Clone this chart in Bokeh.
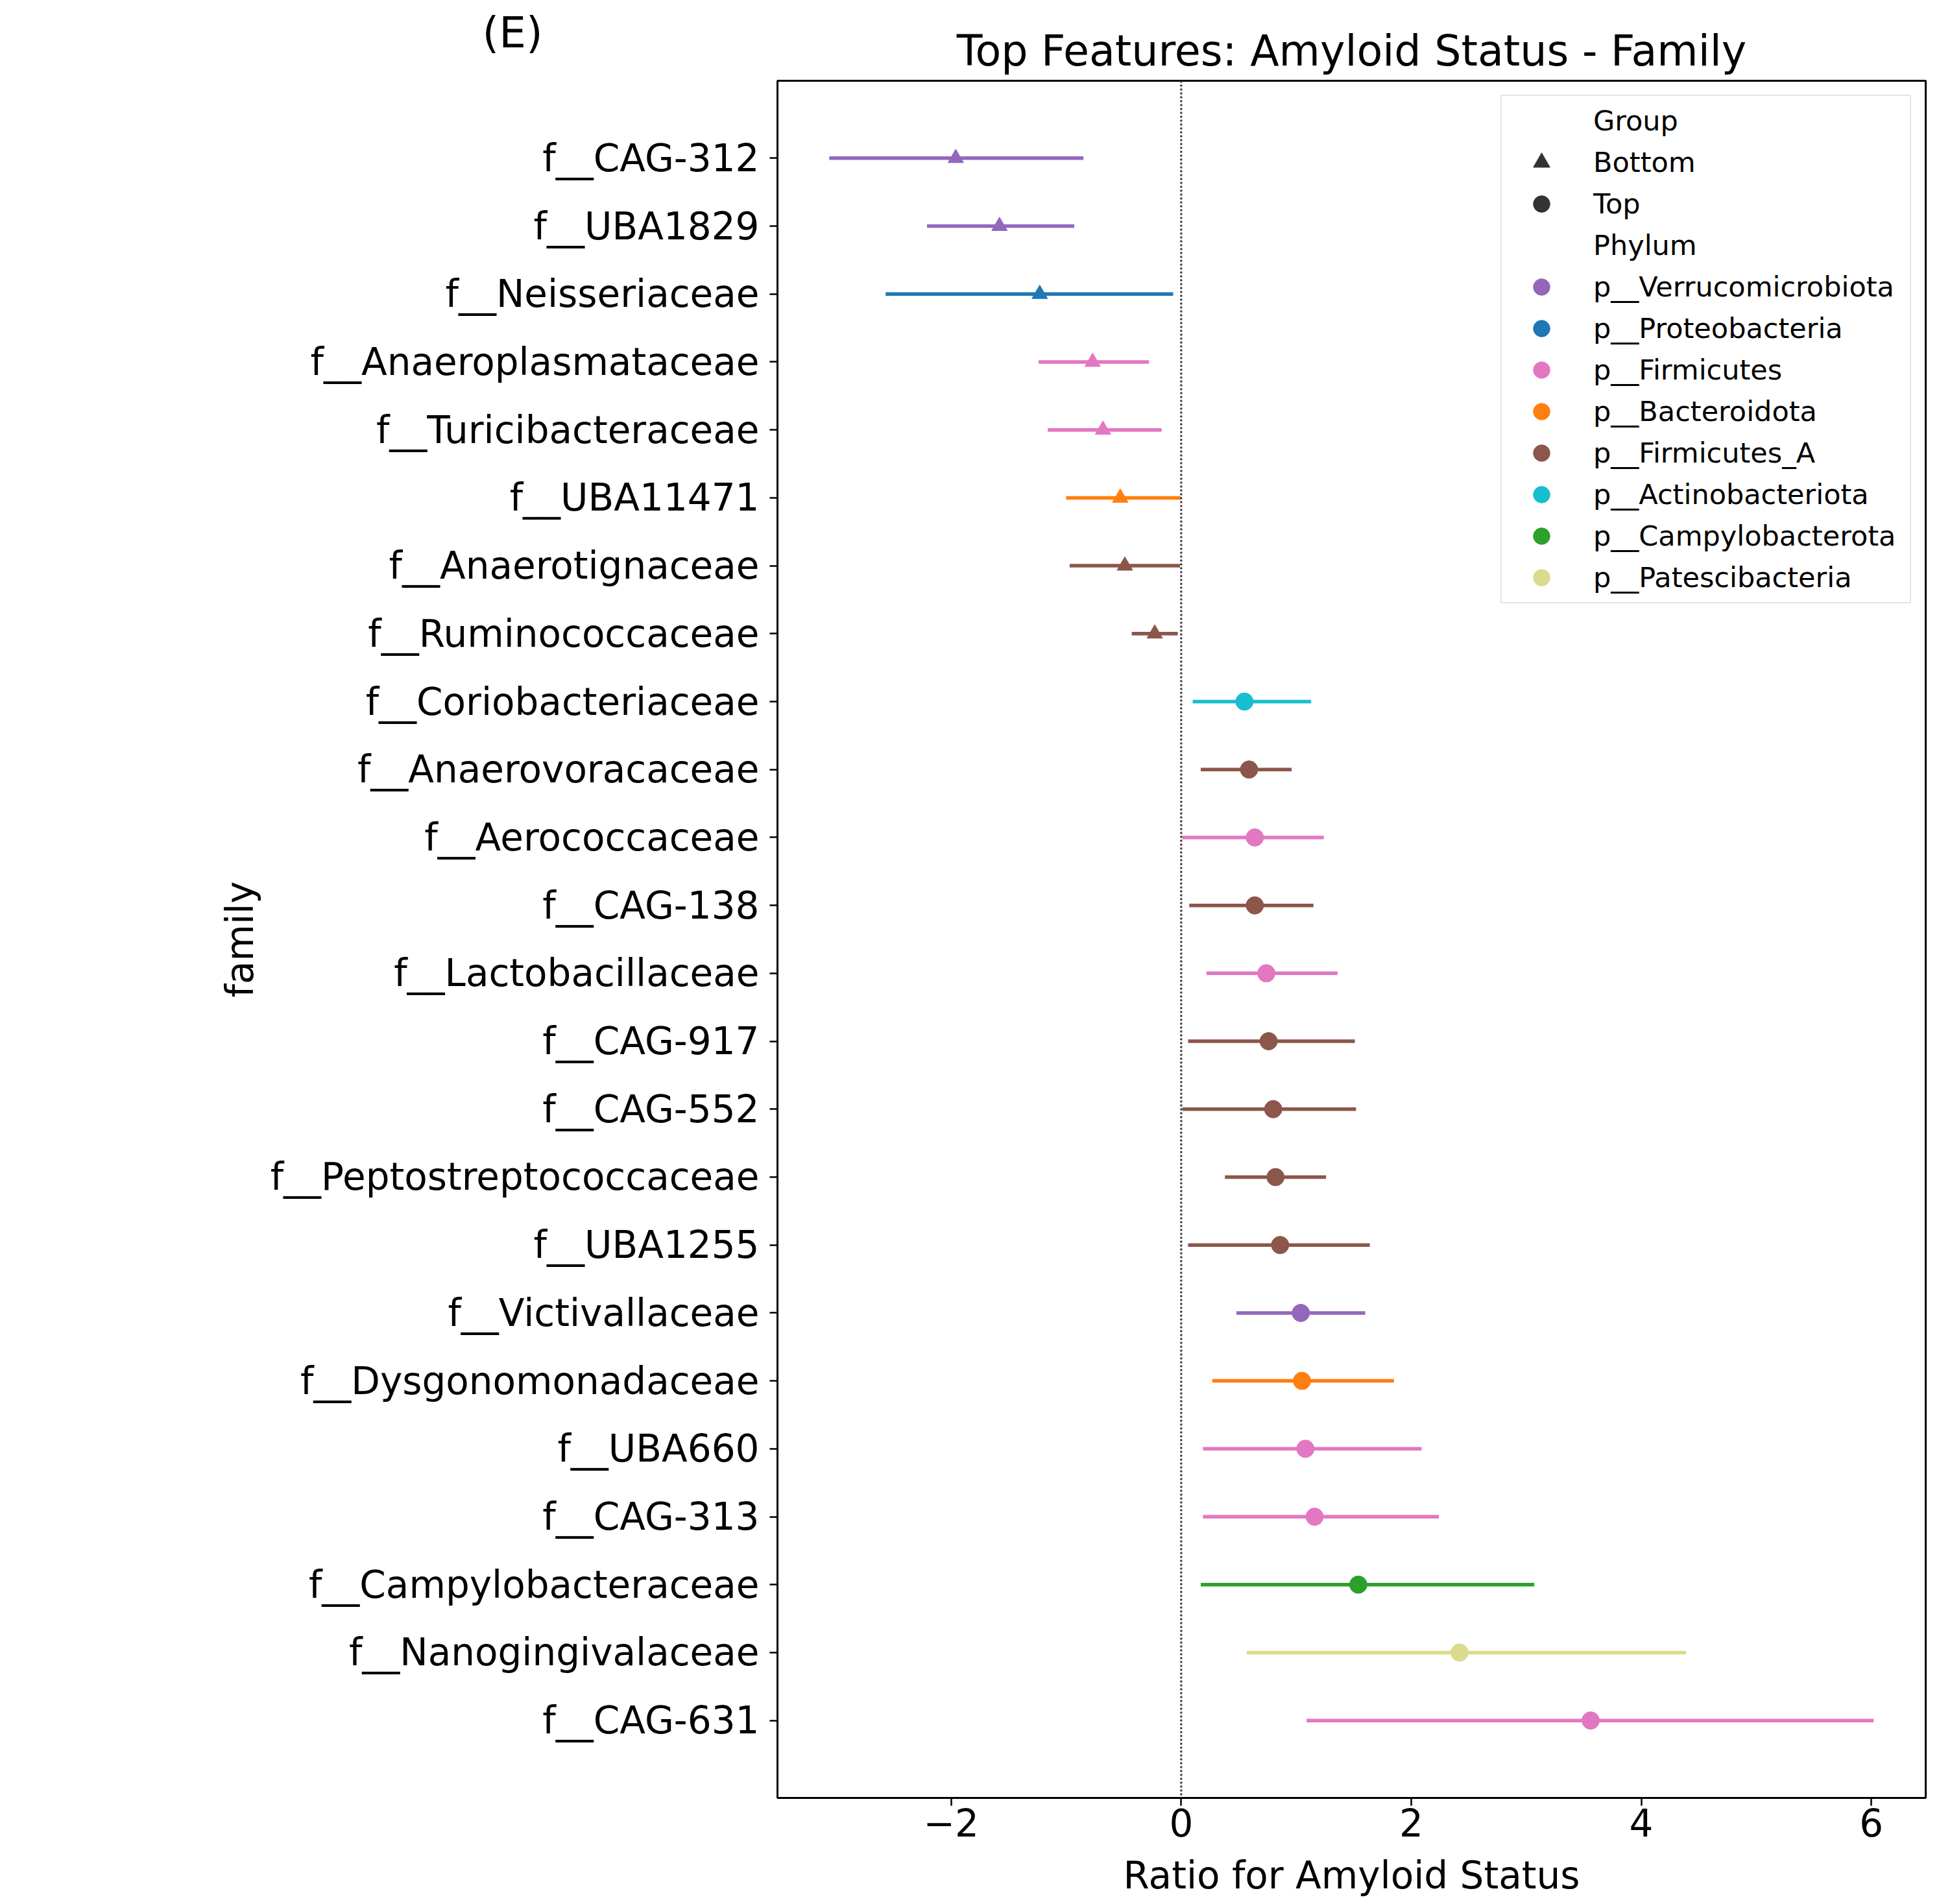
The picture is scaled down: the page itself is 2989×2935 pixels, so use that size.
from bokeh.plotting import figure
from bokeh.models import (Range1d, FixedTicker, Span, Legend, LegendItem, Label,
                          ColumnDataSource)
from bokeh.embed import file_html
from bokeh.resources import INLINE

# ---- data -----------------------------------------------------------------
families = [
    "f__CAG-312", "f__UBA1829", "f__Neisseriaceae", "f__Anaeroplasmataceae",
    "f__Turicibacteraceae", "f__UBA11471", "f__Anaerotignaceae", "f__Ruminococcaceae",
    "f__Coriobacteriaceae", "f__Anaerovoracaceae", "f__Aerococcaceae", "f__CAG-138",
    "f__Lactobacillaceae", "f__CAG-917", "f__CAG-552", "f__Peptostreptococcaceae",
    "f__UBA1255", "f__Victivallaceae", "f__Dysgonomonadaceae", "f__UBA660",
    "f__CAG-313", "f__Campylobacteraceae", "f__Nanogingivalaceae", "f__CAG-631",
]
phylum = [
    "p__Verrucomicrobiota", "p__Verrucomicrobiota", "p__Proteobacteria", "p__Firmicutes",
    "p__Firmicutes", "p__Bacteroidota", "p__Firmicutes_A", "p__Firmicutes_A",
    "p__Actinobacteriota", "p__Firmicutes_A", "p__Firmicutes", "p__Firmicutes_A",
    "p__Firmicutes", "p__Firmicutes_A", "p__Firmicutes_A", "p__Firmicutes_A",
    "p__Firmicutes_A", "p__Verrucomicrobiota", "p__Bacteroidota", "p__Firmicutes",
    "p__Firmicutes", "p__Campylobacterota", "p__Patescibacteria", "p__Firmicutes",
]
group = ["Bottom"] * 8 + ["Top"] * 16
ratio = [-1.96, -1.58, -1.23, -0.77, -0.68, -0.53, -0.49, -0.23,
         0.55, 0.59, 0.64, 0.64, 0.74, 0.76, 0.80, 0.82,
         0.86, 1.04, 1.05, 1.08, 1.16, 1.54, 2.42, 3.56]
ci_low = [-3.06, -2.21, -2.57, -1.24, -1.16, -1.00, -0.97, -0.43,
          0.10, 0.17, 0.01, 0.07, 0.22, 0.06, 0.01, 0.38,
          0.06, 0.48, 0.27, 0.19, 0.19, 0.17, 0.57, 1.09]
ci_high = [-0.85, -0.93, -0.07, -0.28, -0.17, -0.005, -0.01, -0.03,
           1.13, 0.96, 1.24, 1.15, 1.36, 1.51, 1.52, 1.26,
           1.64, 1.60, 1.85, 2.09, 2.24, 3.07, 4.39, 6.02]

phylum_order = ["p__Verrucomicrobiota", "p__Proteobacteria", "p__Firmicutes",
                "p__Bacteroidota", "p__Firmicutes_A", "p__Actinobacteriota",
                "p__Campylobacterota", "p__Patescibacteria"]
phylum_colors = ["#9467bd", "#1f77b4", "#e377c2", "#ff7f0e",
                 "#8c564b", "#17becf", "#2ca02c", "#dbdb8d"]
x_ticks = [-2, 0, 2, 4, 6]

FONT = "DejaVu Sans"
color_of = dict(zip(phylum_order, phylum_colors))
rows = list(range(len(families)))
colors = [color_of[ph] for ph in phylum]

src = ColumnDataSource(dict(y=rows, ratio=ratio, lo=ci_low, hi=ci_high,
                            color=colors, group=group))
bottom_idx = [i for i, g in enumerate(group) if g == "Bottom"]
top_idx = [i for i, g in enumerate(group) if g == "Top"]
src_bottom = ColumnDataSource({k: [v[i] for i in bottom_idx] for k, v in src.data.items()})
src_top = ColumnDataSource({k: [v[i] for i in top_idx] for k, v in src.data.items()})

# ---- figure ---------------------------------------------------------------
n = len(families)
p = figure(width=2989, height=2935, output_backend="svg", toolbar_location=None,
           x_range=Range1d(-3.510, 6.473),
           y_range=Range1d(n - 1 + 1.14, -1.14),
           min_border_left=1198, min_border_right=21,
           min_border_top=124, min_border_bottom=164)
p.background_fill_color = "white"
p.border_fill_color = "white"
p.grid.visible = False
p.outline_line_color = "black"
p.outline_line_width = 3

p.title.text = "Top Features: Amyloid Status - Family"
p.title.align = "center"
p.title.text_font = FONT
p.title.text_font_size = "65px"
p.title.text_font_style = "normal"
p.title.text_color = "black"
p.title.standoff = 18

# axes
p.xaxis.ticker = FixedTicker(ticks=x_ticks)
p.xaxis.major_label_overrides = {t: (f"\u2212{abs(t)}" if t < 0 else str(t)) for t in x_ticks}
p.xaxis.axis_label = "Ratio for Amyloid Status"
p.yaxis.ticker = FixedTicker(ticks=rows)
p.yaxis.major_label_overrides = {i: name for i, name in enumerate(families)}
p.yaxis.axis_label = "family"
for ax in (p.xaxis, p.yaxis):
    ax.axis_line_color = None
    ax.major_tick_line_color = "black"
    ax.major_tick_line_width = 2.5
    ax.major_tick_out = 12
    ax.major_tick_in = 0
    ax.minor_tick_line_color = None
    ax.major_label_text_font = FONT
    ax.major_label_text_font_size = "58px"
    ax.major_label_text_color = "black"
    ax.axis_label_text_font = FONT
    ax.axis_label_text_font_size = "58px"
    ax.axis_label_text_font_style = "normal"
    ax.axis_label_text_color = "black"
p.xaxis.major_label_standoff = 4
p.xaxis.axis_label_standoff = 23
p.yaxis.major_label_standoff = 16
p.yaxis.axis_label_standoff = 10

# reference line at zero
p.add_layout(Span(location=0, dimension="height", line_color="#333333",
                  line_width=3, line_dash="3 3"))

# confidence intervals and point estimates
p.segment(x0="lo", y0="y", x1="hi", y1="y", source=src,
          line_color="color", line_width=5.5)
p.scatter(x="ratio", y="y", source=src_bottom, marker="triangle", size=24,
          fill_color="color", line_color="color", line_width=1)
p.scatter(x="ratio", y="y", source=src_top, marker="circle", size=27,
          fill_color="color", line_color="color", line_width=1)

# legend swatches: single NaN point renderers, drawn only inside the legend
NAN = float("nan")

def swatch(marker, color, alpha=1.0):
    return p.scatter(x=[NAN], y=[NAN], marker=marker, fill_color=color,
                     line_color=color, fill_alpha=alpha, line_alpha=alpha)

items = [LegendItem(label="Group", renderers=[swatch("circle", "white", 0.0)]),
         LegendItem(label="Bottom", renderers=[swatch("triangle", "#333333")]),
         LegendItem(label="Top", renderers=[swatch("circle", "#333333")]),
         LegendItem(label="Phylum", renderers=[swatch("circle", "white", 0.0)])]
for ph, c in zip(phylum_order, phylum_colors):
    items.append(LegendItem(label=ph, renderers=[swatch("circle", c)]))

legend = Legend(items=items, location="top_right", margin=22, padding=6,
                spacing=0, glyph_height=64, glyph_width=110, label_standoff=25,
                label_width=482, label_text_font=FONT, label_text_font_size="43px",
                label_text_color="black", border_line_color="#cccccc",
                border_line_width=2, background_fill_color="white",
                background_fill_alpha=0.8)
p.add_layout(legend)

# panel tag, in canvas coordinates, kept in the left margin panel
tag = Label(x=743, y=50, x_units="canvas", y_units="canvas", text="(E)",
            text_font=FONT, text_font_size="66px", text_color="black",
            text_baseline="middle", text_align="left")
p.add_layout(tag, "left")

open("out.html", "w").write(file_html(p, INLINE))
